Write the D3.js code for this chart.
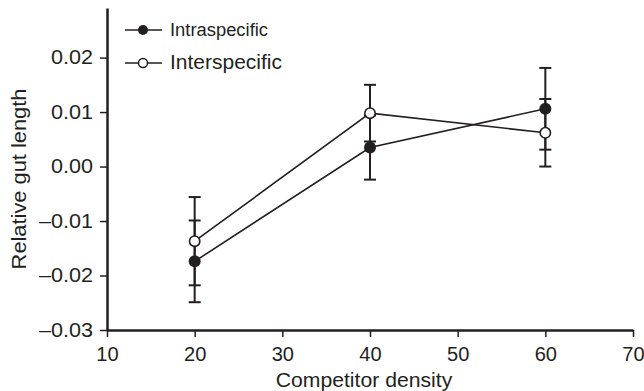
<!DOCTYPE html>
<html>
<head>
<meta charset="utf-8">
<script src="https://cdn.jsdelivr.net/npm/d3@7"></script>
<style>
  body { margin: 0; background: #fff; }
  text { font-family: "Liberation Sans", Arial, sans-serif; fill: #231f20; }
</style>
</head>
<body>
<div id="chart"></div>
<script>
const density = [20, 40, 60];
const intraMean = [-0.0174, 0.0035, 0.0106];
const intraErr = [0.0075, 0.0059, 0.0075];
const interMean = [-0.0137, 0.0098, 0.0062];
const interErr = [0.0081, 0.0052, 0.0062];
const xTicks = [10, 20, 30, 40, 50, 60, 70];
const yTicks = [-0.03, -0.02, -0.01, 0.00, 0.01, 0.02];

const ink = '#231f20';
const W = 644, H = 391;
const font = '"Liberation Sans", Arial, sans-serif';

const svg = d3.select('#chart').append('svg')
  .attr('width', W)
  .attr('height', H);

const x = d3.scaleLinear().domain([10, 70]).range([107, 633]);
const y = d3.scaleLinear().domain([-0.03, 0.0291]).range([330, 8]);

const fmtY = d => (d < 0 ? '\u2013' : '') + Math.abs(d).toFixed(2);

// the original type is a bit wider than Liberation Sans
const kTick = 1.08;

// x axis
svg.append('g')
  .attr('transform', `translate(0,${y(-0.03)})`)
  .call(d3.axisBottom(x).tickValues(xTicks).tickSize(7).tickPadding(10).tickSizeOuter(0))
  .call(g => g.select('.domain').attr('stroke', ink).attr('stroke-width', 2.5))
  .call(g => g.selectAll('.tick line').attr('stroke', ink).attr('stroke-width', 1.5))
  .call(g => g.selectAll('.tick text').attr('fill', ink)
    .style('font-size', '19.5px').style('font-family', font)
    .attr('transform', 'scale(1.03,1)'));

// y axis
svg.append('g')
  .attr('transform', `translate(${x(10)},0)`)
  .call(d3.axisLeft(y).tickValues(yTicks).tickFormat(fmtY).tickSize(7).tickPadding(7).tickSizeOuter(0))
  .call(g => g.select('.domain').attr('stroke', ink).attr('stroke-width', 2.5))
  .call(g => g.selectAll('.tick line').attr('stroke', ink).attr('stroke-width', 1.5))
  .call(g => g.selectAll('.tick text').attr('fill', ink)
    .style('font-size', '20px').style('font-family', font)
    .attr('x', -14 / kTick)
    .attr('transform', `scale(${kTick},1)`));

svg.append('text')
  .attr('transform', `translate(${(x(10) + x(70)) / 2 - 6},387) scale(1.06,1)`)
  .attr('text-anchor', 'middle')
  .style('font-size', '20px')
  .text('Competitor density');

svg.append('text')
  .attr('transform', `translate(26,179) rotate(-90) scale(1.12,1)`)
  .attr('text-anchor', 'middle')
  .style('font-size', '19.5px')
  .text('Relative gut length');

const series = [
  { mean: intraMean, err: intraErr, filled: true },
  { mean: interMean, err: interErr, filled: false }
];

const line = d3.line().x(d => x(d[0])).y(d => y(d[1]));

series.forEach(s => {
  const pts = density.map((d, i) => [d, s.mean[i], s.err[i]]);
  svg.append('path')
    .datum(pts)
    .attr('fill', 'none')
    .attr('stroke', ink)
    .attr('stroke-width', 1.6)
    .attr('d', line);
});

series.forEach(s => {
  const pts = density.map((d, i) => [d, s.mean[i], s.err[i]]);
  const eb = svg.append('g').attr('stroke', ink).attr('stroke-width', 2);
  eb.selectAll('line.v').data(pts).enter().append('line')
    .attr('x1', d => x(d[0])).attr('x2', d => x(d[0]))
    .attr('y1', d => y(d[1] - d[2])).attr('y2', d => y(d[1] + d[2]));
  [-1, 1].forEach(sgn => {
    eb.selectAll(null).data(pts).enter().append('line')
      .attr('x1', d => x(d[0]) - 6).attr('x2', d => x(d[0]) + 6)
      .attr('y1', d => y(d[1] + sgn * d[2])).attr('y2', d => y(d[1] + sgn * d[2]));
  });
});

series.forEach(s => {
  const pts = density.map((d, i) => [d, s.mean[i]]);
  svg.selectAll(null).data(pts).enter().append('circle')
    .attr('cx', d => x(d[0]))
    .attr('cy', d => y(d[1]))
    .attr('r', s.filled ? 6 : 5.2)
    .attr('fill', s.filled ? ink : '#fff')
    .attr('stroke', ink)
    .attr('stroke-width', s.filled ? 0 : 1.6);
});

// legend
const legend = [
  { label: 'Intraspecific', filled: true, y: 30, size: 17.5 },
  { label: 'Interspecific', filled: false, y: 63, size: 20 }
];
const lg = svg.append('g');
legend.forEach(l => {
  lg.append('line')
    .attr('x1', 125).attr('x2', 162)
    .attr('y1', l.y).attr('y2', l.y)
    .attr('stroke', ink).attr('stroke-width', 1.6);
  lg.append('circle')
    .attr('cx', 143).attr('cy', l.y)
    .attr('r', l.filled ? 5 : 4.5)
    .attr('fill', l.filled ? ink : '#fff')
    .attr('stroke', ink)
    .attr('stroke-width', l.filled ? 0 : 1.5);
  lg.append('text')
    .attr('transform', `translate(170,${l.y + 5 + l.size * 0.06}) scale(1.05,1)`)
    .style('font-size', l.size + 'px')
    .text(l.label);
});
</script>
</body>
</html>
